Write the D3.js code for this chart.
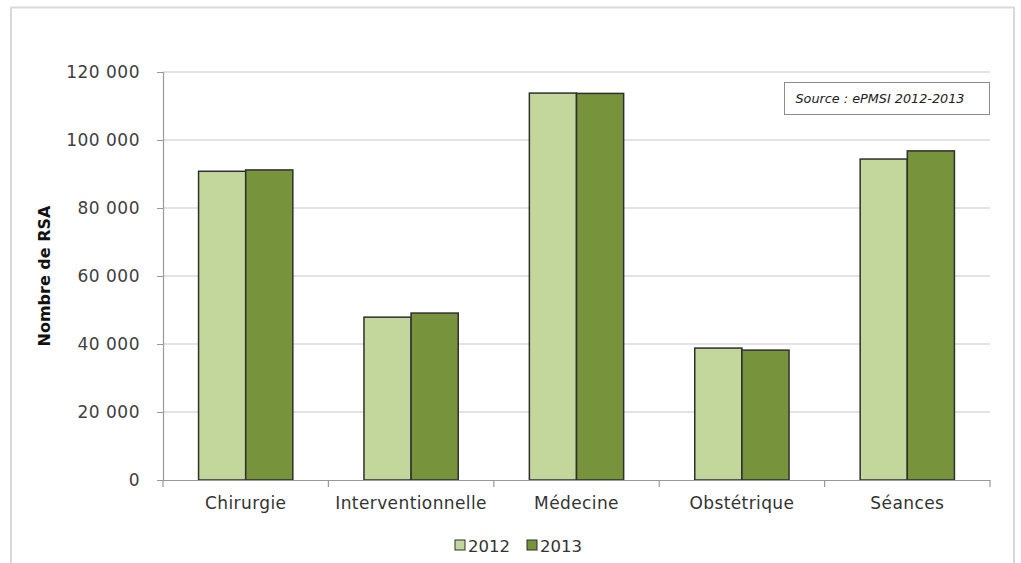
<!DOCTYPE html>
<html><head><meta charset="utf-8">
<script src="https://cdn.jsdelivr.net/npm/d3@7"></script>
<style>body{margin:0;background:#fff;} text{font-family:"DejaVu Sans",sans-serif;}</style>
</head><body>
<svg id="c" width="1021" height="563"></svg>
<script>
const categories = ["Chirurgie","Interventionnelle","Médecine","Obstétrique","Séances"];
const seriesNames = ["2012","2013"];
const values2012 = [90800, 47900, 113800, 38800, 94400];
const values2013 = [91200, 49100, 113700, 38200, 96800];
const yTicks = [0,20000,40000,60000,80000,100000,120000];
const colors = ["#c3d69b","#77933c"];

const svg = d3.select("#c");
svg.append("rect").attr("x",11).attr("y",7.5).attr("width",1003).attr("height",600)
  .attr("fill","#fff").attr("stroke","#d9d9d9").attr("stroke-width",2);

const m = {left:163, right:990, top:72, bottom:480};
const x = d3.scaleBand().domain(categories).range([m.left,m.right]).paddingInner(0.43).paddingOuter(0.215);
const xs = d3.scaleBand().domain(seriesNames).range([0,x.bandwidth()]);
const y = d3.scaleLinear().domain([0,120000]).range([m.bottom,m.top]);
const fmt = v => d3.format(",")(v).replace(/,/g," ");

// gridlines
svg.append("g").selectAll("line").data(yTicks.filter(d=>d>0)).join("line")
  .attr("x1",m.left).attr("x2",m.right).attr("y1",d=>y(d)).attr("y2",d=>y(d))
  .attr("stroke","#c8c8c8").attr("stroke-width",1.2);

// y axis
const ya = svg.append("g").attr("transform",`translate(${m.left},0)`)
  .call(d3.axisLeft(y).tickValues(yTicks).tickFormat(fmt).tickSize(6).tickPadding(17));
ya.select(".domain").attr("stroke","#999").attr("stroke-width",1.2);
ya.selectAll(".tick line").attr("stroke","#999");
ya.selectAll(".tick text").attr("font-size",17).attr("letter-spacing",0.5).attr("fill","#404040")
  .attr("font-family","DejaVu Sans, sans-serif");

// bars
const data = categories.map((c,i)=>({c, v:[values2012[i],values2013[i]]}));
const g = svg.append("g");
data.forEach(d=>{
  seriesNames.forEach((s,j)=>{
    g.append("rect").attr("x",x(d.c)+xs(s)).attr("y",y(d.v[j]))
     .attr("width",xs.bandwidth()).attr("height",y(0)-y(d.v[j]))
     .attr("fill",colors[j]).attr("stroke","#2f2f2f").attr("stroke-width",1.5);
  });
});

// x axis
const xa = svg.append("g").attr("transform",`translate(0,${m.bottom})`)
  .call(d3.axisBottom(x).tickSize(0).tickPadding(17));
xa.select(".domain").attr("stroke","#999").attr("stroke-width",1.2);
xa.selectAll(".tick text").attr("font-size",17).attr("letter-spacing",0.4).attr("fill","#333")
  .attr("font-family","DejaVu Sans, sans-serif");
// category separator ticks
const bounds = d3.range(categories.length+1).map(i=>m.left + i*(m.right-m.left)/categories.length);
svg.append("g").selectAll("line").data(bounds).join("line")
  .attr("x1",d=>d).attr("x2",d=>d).attr("y1",m.bottom).attr("y2",m.bottom+7)
  .attr("stroke","#999").attr("stroke-width",1.2);

// y title
svg.append("text").attr("transform","translate(50,276) rotate(-90)").attr("text-anchor","middle")
  .attr("font-size",16).attr("font-weight","bold").attr("fill","#111").text("Nombre de RSA");

// source box
svg.append("rect").attr("x",784.5).attr("y",82.5).attr("width",205).attr("height",32)
  .attr("fill","#fff").attr("stroke","#8c8c8c").attr("stroke-width",1);
svg.append("text").attr("x",880).attr("y",103).attr("text-anchor","middle")
  .attr("font-size",12.8).attr("font-style","italic").attr("fill","#222")
  .attr("font-family","Liberation Sans, sans-serif").text("Source : ePMSI 2012-2013");

// legend
const legX = [455, 527];
seriesNames.forEach((s,j)=>{
  svg.append("rect").attr("x",legX[j]).attr("y",540).attr("width",10).attr("height",10)
    .attr("fill",colors[j]).attr("stroke","#2f2f2f").attr("stroke-width",1);
  svg.append("text").attr("x",legX[j]+13).attr("y",552).attr("font-size",16.5)
    .attr("fill","#333").text(s);
});
</script>
</body></html>
